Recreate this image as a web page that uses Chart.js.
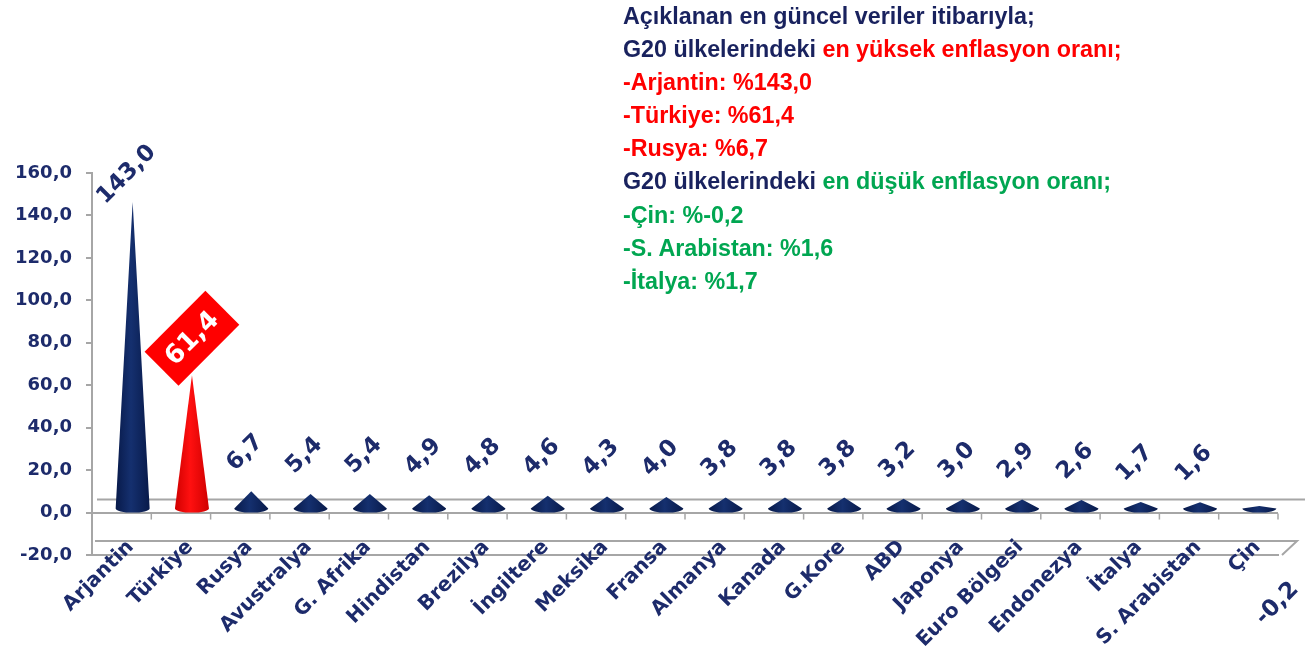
<!DOCTYPE html>
<html>
<head>
<meta charset="utf-8">
<script src="https://cdn.jsdelivr.net/npm/chart.js@4.4.0/dist/chart.umd.min.js"></script>
<style>
html,body{margin:0;padding:0;background:#ffffff;}
#wrap{position:relative;width:1306px;height:658px;overflow:hidden;background:#ffffff;}
#c{position:absolute;left:0;top:0;}
#note{position:absolute;left:623px;top:0;font-family:"Liberation Sans",Arial,sans-serif;font-weight:bold;font-size:23.3px;line-height:33.1px;color:#19225e;white-space:nowrap;}
#note .r{color:#ff0000;}
#note .g{color:#00a651;}
</style>
</head>
<body>
<div id="wrap">
<canvas id="c" width="1306" height="658"></canvas>
<div id="note"></div>
</div>
<script>
// ---- data ----
const categories = ['Arjantin','Türkiye','Rusya','Avustralya','G. Afrika','Hindistan','Brezilya','İngiltere','Meksika','Fransa','Almanya','Kanada','G.Kore','ABD','Japonya','Euro Bölgesi','Endonezya','İtalya','S. Arabistan','Çin'];
const inflation = [143.0,61.4,6.7,5.4,5.4,4.9,4.8,4.6,4.3,4.0,3.8,3.8,3.8,3.2,3.0,2.9,2.6,1.7,1.6,-0.2];
const yAxisMin = -20;
const yAxisMax = 160;
const yAxisStep = 20;
const highlightCategory = 'Türkiye';
const noteTitle = 'Açıklanan en güncel veriler itibarıyla;';
const noteGroup = 'G20 ülkelerindeki';
const noteHigh = 'en yüksek enflasyon oranı;';
const noteLow = 'en düşük enflasyon oranı;';

// ---- styles ----
const NAVY_TEXT = '#1d2b6b';
const GRAY = '#a6a6a6';
const CHART_FONT = '"DejaVu Sans", Verdana, sans-serif';

function fmt(v){ return v.toFixed(1).replace('.', ','); }

// ---- note text built from data ----
(function(){
  const idx = inflation.map((v,i)=>i);
  const high = idx.slice().sort((a,b)=>inflation[b]-inflation[a]).slice(0,3);
  const low = idx.slice().sort((a,b)=>inflation[a]-inflation[b]).slice(0,3);
  const note = document.getElementById('note');
  function line(html){ const d=document.createElement('div'); d.innerHTML=html; note.appendChild(d); }
  line(noteTitle);
  line(noteGroup + ' <span class="r">' + noteHigh + '</span>');
  high.forEach(i=>line('<span class="r">-' + categories[i] + ': %' + fmt(inflation[i]) + '</span>'));
  line(noteGroup + ' <span class="g">' + noteLow + '</span>');
  low.forEach(i=>line('<span class="g">-' + categories[i] + ': %' + fmt(inflation[i]) + '</span>'));
})();

// ---- custom drawing plugin: 3D floor lines, cones, value labels, category labels ----
const conePlugin = {
  id: 'cones',
  beforeDatasetsDraw(chart){
    const ctx = chart.ctx, ca = chart.chartArea;
    const y = chart.scales.y;
    const n = categories.length, w = (ca.right - ca.left) / n;
    ctx.save();
    ctx.strokeStyle = GRAY; ctx.lineWidth = 2;
    const y0 = y.getPixelForValue(0);
    ctx.beginPath(); ctx.moveTo(ca.left + 5, y0 - 13); ctx.lineTo(ca.right + 27, y0 - 13); ctx.stroke();
    const yb = y.getPixelForValue(yAxisMin);
    ctx.beginPath(); ctx.moveTo(ca.left + 3, yb - 14); ctx.lineTo(ca.right + 19, yb - 14); ctx.lineTo(ca.right + 4, yb); ctx.stroke();
    ctx.lineWidth = 1.5;
    for (let k = 1; k <= n; k++) {
      const xx = ca.left + k * w;
      ctx.beginPath(); ctx.moveTo(xx, y0 + 1); ctx.lineTo(xx, y0 + 7); ctx.stroke();
    }
    ctx.restore();
  },
  afterDatasetsDraw(chart){
    const ctx = chart.ctx;
    const y = chart.scales.y, x = chart.scales.x;
    const meta = chart.getDatasetMeta(0);
    const y0 = y.getPixelForValue(0);
    ctx.save();
    // cones
    meta.data.forEach((el, i) => {
      const v = inflation[i];
      const cx = el.x + 11;
      const apex = y.getPixelForValue(v) - 7;
      const base = y0 - 4;
      const hw = 17, ry = 4;
      const hl = categories[i] === highlightCategory;
      const main = hl ? '#ff1010' : '#15306f';
      const dark = hl ? '#d00000' : '#081a4a';
      const g = ctx.createLinearGradient(cx - hw, 0, cx + hw, 0);
      g.addColorStop(0, dark); g.addColorStop(0.45, main); g.addColorStop(1, dark);
      ctx.beginPath();
      ctx.moveTo(cx - hw, base);
      ctx.lineTo(cx, apex);
      ctx.lineTo(cx + hw, base);
      ctx.ellipse(cx, base, hw, ry, 0, 0, Math.PI, false);
      ctx.closePath();
      ctx.fillStyle = g;
      ctx.fill();
    });
    // value labels
    meta.data.forEach((el, i) => {
      const v = inflation[i];
      const txt = fmt(v);
      const hl = categories[i] === highlightCategory;
      const yv = y.getPixelForValue(v);
      if (hl) {
        const bx = el.x + 11, by = yv - 44;
        ctx.save();
        ctx.translate(bx, by); ctx.rotate(-Math.PI / 4);
        ctx.fillStyle = '#ff0000';
        ctx.fillRect(-43, -24, 86, 48);
        ctx.fillStyle = '#ffffff';
        ctx.font = 'bold 26px ' + CHART_FONT;
        ctx.textAlign = 'center'; ctx.textBaseline = 'middle';
        ctx.fillText(txt, 0, 1);
        ctx.restore();
        return;
      }
      ctx.font = 'bold 23px ' + CHART_FONT;
      const L = ctx.measureText(txt).width, h = 17;
      const hh = (L + h) * Math.SQRT1_2 / 2;
      let lx, ly;
      if (v >= 0) { lx = el.x + 5; ly = yv - 66 + hh; }
      else { lx = el.x + 29; ly = yv + 67 + hh; }
      ctx.save();
      ctx.translate(lx, ly); ctx.rotate(-Math.PI / 4);
      ctx.fillStyle = NAVY_TEXT;
      ctx.textAlign = 'center'; ctx.textBaseline = 'middle';
      ctx.fillText(txt, 0, 0);
      ctx.restore();
    });
    // category labels (rotated, drawn at the category scale positions)
    ctx.font = 'bold 20px ' + CHART_FONT;
    ctx.fillStyle = NAVY_TEXT;
    categories.forEach((c, i) => {
      const px = x.getPixelForValue(i) + 9;
      const py = y.getPixelForValue(yAxisMin) - 11;
      ctx.save();
      ctx.translate(px, py); ctx.rotate(-Math.PI / 4);
      ctx.textAlign = 'right'; ctx.textBaseline = 'middle';
      ctx.fillText(c, 0, 0);
      ctx.restore();
    });
    ctx.restore();
  }
};

new Chart(document.getElementById('c'), {
  type: 'bar',
  data: {
    labels: categories,
    datasets: [{ data: inflation, backgroundColor: 'rgba(0,0,0,0)', borderWidth: 0 }]
  },
  options: {
    responsive: false,
    animation: false,
    devicePixelRatio: 1,
    layout: { padding: { top: 173, right: 28, left: 0, bottom: 0 } },
    plugins: { legend: { display: false }, tooltip: { enabled: false } },
    scales: {
      x: {
        grid: { display: false, drawTicks: false },
        border: { display: true, color: GRAY, width: 2 },
        ticks: { display: false },
        afterFit: s => { s.height = 103; }
      },
      y: {
        min: yAxisMin, max: yAxisMax,
        ticks: {
          stepSize: yAxisStep, padding: 14, color: NAVY_TEXT,
          font: { family: CHART_FONT, weight: 'bold', size: 18 },
          callback: v => fmt(v)
        },
        grid: {
          drawTicks: true, tickLength: 6, tickColor: GRAY, tickWidth: 2, lineWidth: 2,
          color: c => (c.tick && c.tick.value === 0) ? GRAY : 'rgba(0,0,0,0)'
        },
        border: { display: true, color: GRAY, width: 2 },
        afterFit: s => { s.width = 92; }
      }
    }
  },
  plugins: [conePlugin]
});
</script>
</body>
</html>
